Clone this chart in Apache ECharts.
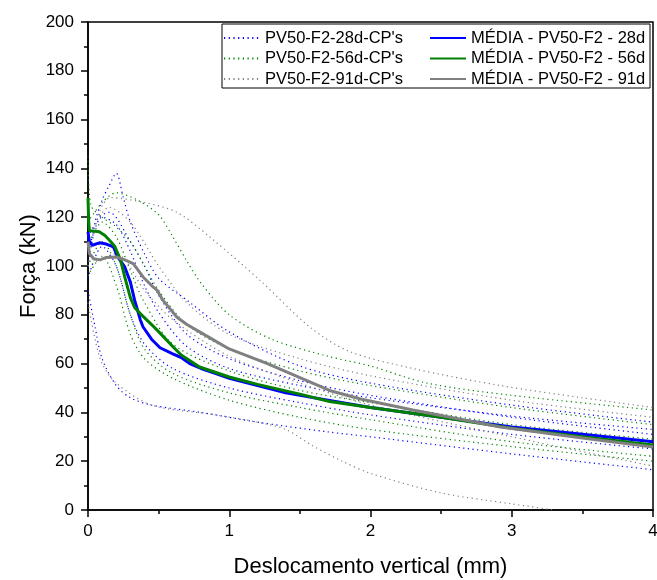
<!DOCTYPE html>
<html>
<head>
<meta charset="utf-8">
<script src="https://cdn.jsdelivr.net/npm/echarts@6/dist/echarts.min.js"></script>
<style>
  html, body { margin: 0; padding: 0; background: #fff; }
  #chart { width: 657px; height: 580px; }
</style>
</head>
<body>
<div id="chart"></div>
<script>
// legend names
const nomesCP = ["PV50-F2-28d-CP's", "PV50-F2-56d-CP's", "PV50-F2-91d-CP's"];
const nomesMedia = ['MÉDIA - PV50-F2 - 28d', 'MÉDIA - PV50-F2 - 56d', 'MÉDIA - PV50-F2 - 91d'];

// 28d specimens [deslocamento (mm), força (kN)]
const cp28_1 = [[0,100],[0.05,118],[0.1,127],[0.15,133],[0.2,138],[0.25,128],[0.3,118],[0.4,105],[0.5,95],[0.7,86],[1.0,73],[1.5,59],[2,52],[3,43],[4,36]];
const cp28_2 = [[0,112],[0.08,120],[0.15,122],[0.3,110],[0.4,100],[0.5,88],[0.7,72],[1.0,62],[1.5,53],[2,47],[3,38],[4,31]];
const cp28_3 = [[0,95],[0.1,108],[0.2,100],[0.3,80],[0.4,68],[0.6,58],[1.0,50],[1.5,44],[2,39],[3,31],[4,25]];
const cp28_4 = [[0,90],[0.05,75],[0.1,62],[0.2,51],[0.3,46],[0.45,43],[0.8,40],[1.2,36],[1.7,32],[2,30],[3,23],[4,16.5]];
const cp28_5 = [[0,105],[0.1,120],[0.2,117],[0.3,106],[0.4,92],[0.5,81],[0.7,67],[1.0,58],[1.5,51],[2,46],[3,38.5],[4,33]];

// 56d specimens
const cp56_1 = [[0,118],[0.1,126],[0.2,130],[0.35,127],[0.5,121],[0.6,112],[0.7,102],[0.8,93],[1.0,80],[1.3,70],[1.7,63],[2,59],[2.4,52],[3,47],[4,41]];
const cp56_2 = [[0,145],[0.02,125],[0.1,120],[0.2,116],[0.3,110],[0.4,100],[0.5,90],[0.7,76],[1.0,66],[1.5,57],[2,51],[3,42],[4,35]];
const cp56_3 = [[0,108],[0.1,118],[0.2,112],[0.3,98],[0.4,85],[0.6,68],[1.0,57],[1.5,49],[2,44],[3,35],[4,29]];
const cp56_4 = [[0,100],[0.1,110],[0.2,100],[0.3,80],[0.4,66],[0.6,56],[1.0,48],[1.5,42],[2,37],[3,28],[4,22]];
const cp56_5 = [[0,96],[0.1,104],[0.2,92],[0.3,72],[0.4,62],[0.6,54],[1.0,45],[1.5,38],[2,33],[3,26],[4,20]];

// 91d specimens
const cp91_1 = [[0,100],[0.08,122],[0.16,128],[0.4,126],[0.63,122],[0.86,112],[1.22,94],[1.57,75],[1.85,65],[2.3,58],[2.92,51],[3.5,46],[4,42]];
const cp91_2 = [[0,112],[0.15,124],[0.3,118],[0.5,100],[0.7,85],[1.0,72],[1.5,62],[2,55],[3,45],[4,38]];
const cp91_3 = [[0,100],[0.2,105],[0.4,90],[0.6,78],[1.0,63],[1.5,52],[2,43],[3,30],[4,18]];
const cp91_4 = [[0,85],[0.05,70],[0.1,60],[0.2,52],[0.45,43],[0.9,39],[1.2,36],[1.4,33],[1.6,26],[1.8,20],[2,15],[2.5,7],[3,2.5],[3.3,0]];

// mean curves
const media28 = [[0,114],[0.01,110],[0.03,108.5],[0.08,109.5],[0.13,109],[0.18,107.8],[0.21,103.7],[0.26,99.6],[0.3,93.4],[0.33,86],[0.37,78],[0.39,75],[0.45,70],[0.51,66.5],[0.6,64],[0.66,62.5],[0.72,60],[0.8,58],[0.9,56],[1.0,54],[1.2,51],[1.4,48],[1.7,45],[2.0,42],[2.5,38],[3.0,34],[3.5,31],[4,28]];
const media56 = [[0,128],[0.005,118],[0.01,114.5],[0.08,114],[0.12,112.5],[0.16,110],[0.19,108],[0.23,102.5],[0.26,95.5],[0.3,87],[0.33,83],[0.37,80.5],[0.45,76],[0.51,72.5],[0.6,67],[0.66,63.5],[0.79,58.6],[1.0,54.5],[1.2,51.5],[1.5,47.5],[1.71,44.5],[2.0,42],[2.5,38],[3.0,33.5],[3.5,30],[4,26.6]];
const media91 = [[0,110],[0.01,105],[0.04,103],[0.085,102.5],[0.13,103.5],[0.2,103.7],[0.26,102.5],[0.32,101],[0.39,95.5],[0.45,92],[0.49,90],[0.53,86],[0.63,79],[0.7,76],[0.79,73],[1.0,66],[1.27,60],[1.57,52.5],[1.71,49],[1.93,45.5],[2.3,41],[2.92,34],[3.5,29.5],[4,25.8]];

const fonte = 'Liberation Sans, Arial, sans-serif';
const cores = ['#0000ff', '#008000', '#808080'];

const chart = echarts.init(document.getElementById('chart'));

function pontilhado(nome, dados, cor) {
  return {
    name: nome, type: 'line', data: dados, smooth: 0.3,
    showSymbol: false, symbol: 'none', silent: true, z: 2,
    itemStyle: { color: cor },
    lineStyle: { color: cor, width: 1.2, type: [1.2, 3.5] }
  };
}
function media(nome, dados, cor) {
  return {
    name: nome, type: 'line', data: dados, smooth: false,
    showSymbol: false, symbol: 'none', silent: true, z: 3,
    itemStyle: { color: cor },
    lineStyle: { color: cor, width: 3 }
  };
}

const series = [];
[cp28_1, cp28_2, cp28_3, cp28_4, cp28_5].forEach(d => series.push(pontilhado(nomesCP[0], d, cores[0])));
[cp56_1, cp56_2, cp56_3, cp56_4, cp56_5].forEach(d => series.push(pontilhado(nomesCP[1], d, cores[1])));
[cp91_1, cp91_2, cp91_3, cp91_4].forEach(d => series.push(pontilhado(nomesCP[2], d, cores[2])));
series.push(media(nomesMedia[0], media28, cores[0]));
series.push(media(nomesMedia[1], media56, cores[1]));
series.push(media(nomesMedia[2], media91, cores[2]));

const legendaBase = {
  orient: 'vertical', top: 29.5, padding: 0, itemWidth: 36, itemHeight: 15, itemGap: 3.5,
  itemStyle: { opacity: 0 },
  textStyle: { fontFamily: fonte, fontSize: 16.5, color: '#000' }, z: 6
};

const option = {
  backgroundColor: '#fff',
  animation: false,
  grid: {
    left: 88, right: 4, top: 22, bottom: 70, outerBoundsMode: 'none',
    show: true, borderColor: '#000', borderWidth: 1.5
  },
  legend: [
    Object.assign({}, legendaBase, { left: 223, data: nomesCP }),
    Object.assign({}, legendaBase, { left: 429, data: nomesMedia })
  ],
  graphic: [{
    type: 'rect', z: 5,
    shape: { x: 222, y: 24, width: 428, height: 64 },
    style: { fill: '#fff', stroke: '#000', lineWidth: 1 }
  }],
  xAxis: {
    type: 'value', min: 0, max: 4, interval: 1,
    name: 'Deslocamento vertical (mm)', nameLocation: 'middle', nameGap: 46,
    nameMoveOverlap: false,
    nameTextStyle: { fontFamily: fonte, fontSize: 22, color: '#000' },
    axisLine: { onZero: false, lineStyle: { color: '#000', width: 1.5 } },
    axisTick: { inside: false, length: 7, lineStyle: { color: '#000', width: 1.5 } },
    minorTick: { show: true, splitNumber: 2, length: 4, lineStyle: { color: '#000', width: 1.5 } },
    axisLabel: { fontFamily: fonte, fontSize: 17, color: '#000', margin: 13 },
    splitLine: { show: false }
  },
  yAxis: {
    type: 'value', min: 0, max: 200, interval: 20,
    name: 'Força (kN)', nameLocation: 'middle', nameGap: 48,
    nameMoveOverlap: false,
    nameTextStyle: { fontFamily: fonte, fontSize: 22, color: '#000' },
    axisLine: { onZero: false, lineStyle: { color: '#000', width: 1.5 } },
    axisTick: { inside: false, length: 7, lineStyle: { color: '#000', width: 1.5 } },
    minorTick: { show: true, splitNumber: 2, length: 4, lineStyle: { color: '#000', width: 1.5 } },
    axisLabel: { fontFamily: fonte, fontSize: 17, color: '#000', margin: 14 },
    splitLine: { show: false }
  },
  series: series
};

chart.setOption(option);
</script>
</body>
</html>
